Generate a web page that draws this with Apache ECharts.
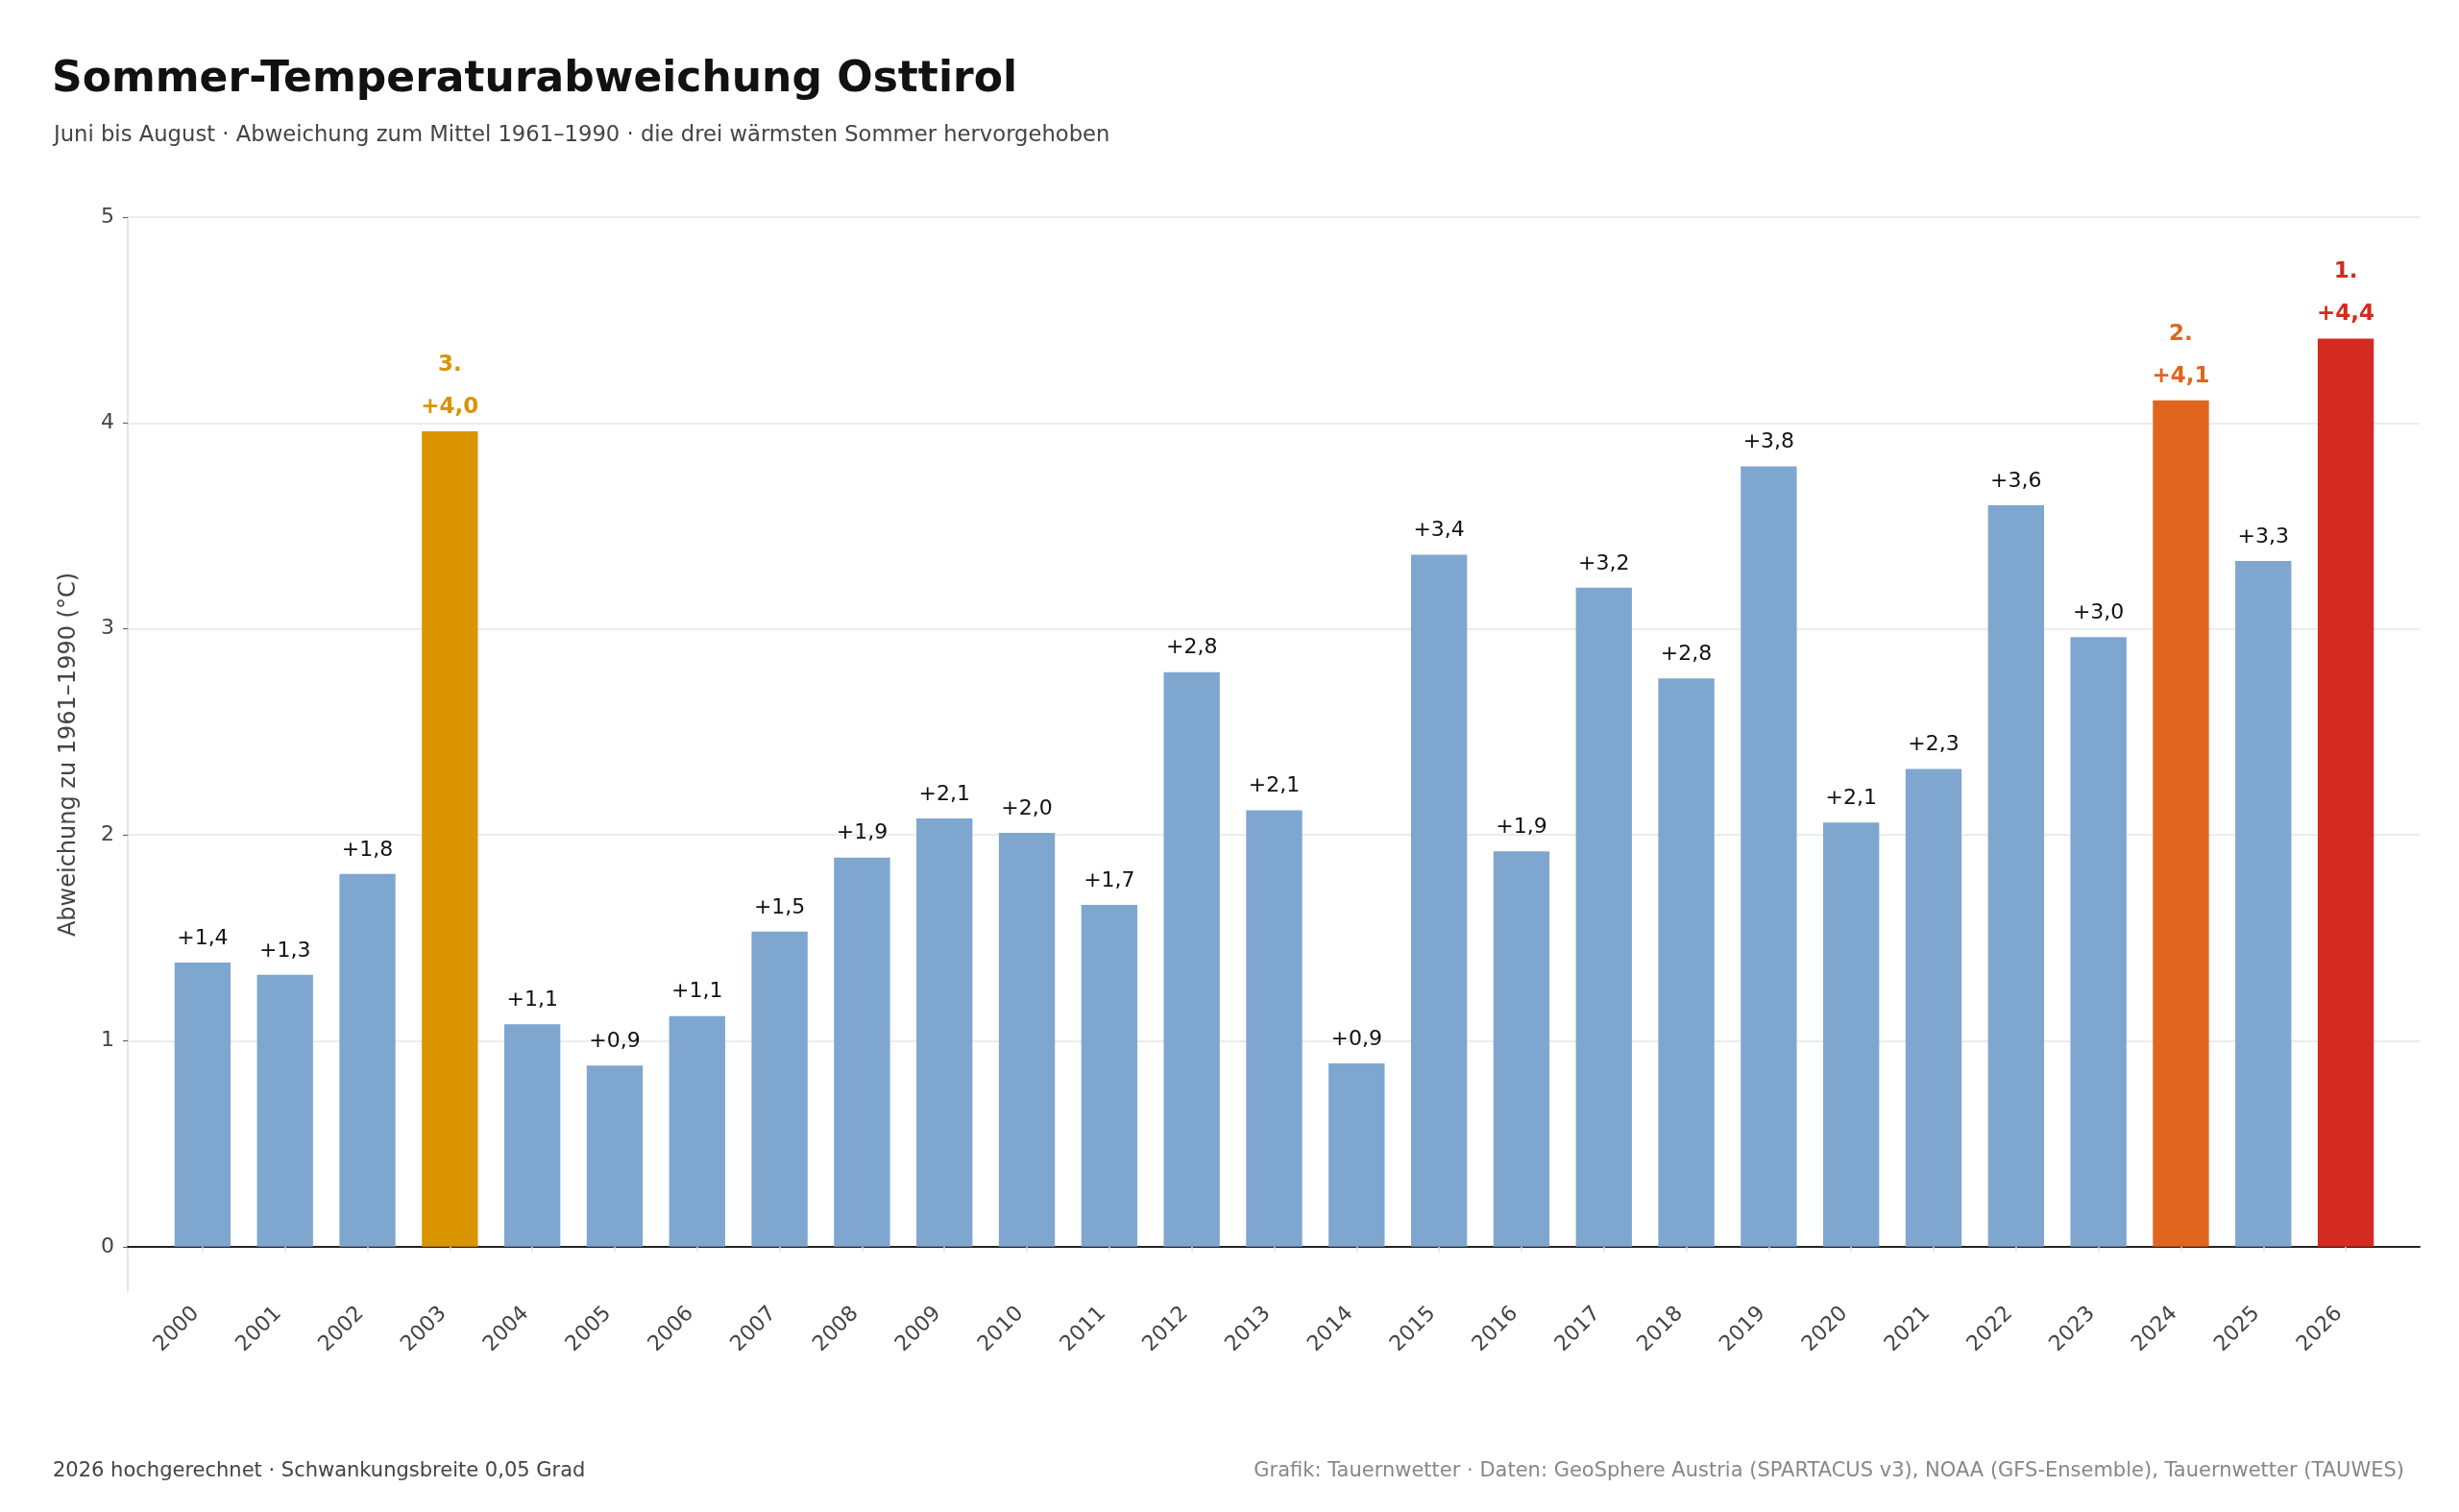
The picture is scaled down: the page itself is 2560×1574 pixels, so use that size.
<!DOCTYPE html>
<html>
<head>
    <meta charset="UTF-8">
    <title>Sommer-Temperaturabweichung Osttirol</title>
    <style>
        html, body { margin: 0; padding: 0; background: #fff; }
        #main { width: 2560px; height: 1574px; }
    </style>
</head>
<body>
<div id="main"></div>
<script src="https://cdn.jsdelivr.net/npm/echarts@6/dist/echarts.min.js"></script>
<script>
    // Jahre und Abweichungen (°C) zum Mittel 1961-1990
    var years = ['2000', '2001', '2002', '2003', '2004', '2005', '2006', '2007', '2008', '2009',
        '2010', '2011', '2012', '2013', '2014', '2015', '2016', '2017', '2018', '2019',
        '2020', '2021', '2022', '2023', '2024', '2025', '2026'];
    var values = [1.38, 1.32, 1.81, 3.96, 1.08, 0.88, 1.12, 1.53, 1.89, 2.08,
        2.01, 1.66, 2.79, 2.12, 0.89, 3.36, 1.92, 3.20, 2.76, 3.79,
        2.06, 2.32, 3.60, 2.96, 4.11, 3.33, 4.41];
    // die drei wärmsten Sommer
    var topYears = ['2026', '2024', '2003'];
    var topColors = ['#D42B20', '#E0661F', '#D99400'];
    var baseColor = '#7FA6CF';

    function fmt(v) {
        return '+' + v.toFixed(1).replace('.', ',');
    }

    var barData = values.map(function (v, i) {
        var rank = topYears.indexOf(years[i]);
        if (rank < 0) {
            return { value: v, itemStyle: { color: baseColor } };
        }
        var c = topColors[rank];
        return {
            value: v,
            itemStyle: { color: c },
            label: {
                distance: 3,
                formatter: '{r|' + (rank + 1) + '.}\n{v|' + fmt(v) + '}',
                rich: {
                    r: { color: c, fontWeight: 'bold', fontSize: 23, lineHeight: 44, fontFamily: 'DejaVu Sans' },
                    v: { color: c, fontWeight: 'bold', fontSize: 23, lineHeight: 44, fontFamily: 'DejaVu Sans' }
                }
            }
        };
    });

    var chart = echarts.init(document.getElementById('main'));
    var option = {
        animation: false,
        backgroundColor: '#fff',
        textStyle: { fontFamily: 'DejaVu Sans' },
        title: [
            {
                text: 'Sommer-Temperaturabweichung Osttirol',
                left: 49, top: 57,
                textStyle: { fontSize: 44, fontWeight: 'bold', color: '#111' }
            },
            {
                text: 'Juni bis August · Abweichung zum Mittel 1961–1990 · die drei wärmsten Sommer hervorgehoben',
                left: 51, top: 125,
                textStyle: { fontSize: 22.7, fontWeight: 'normal', color: '#444' }
            },
            {
                text: '2026 hochgerechnet · Schwankungsbreite 0,05 Grad',
                left: 50, top: 1516,
                textStyle: { fontSize: 21, fontWeight: 'normal', color: '#444' }
            },
            {
                text: 'Grafik: Tauernwetter · Daten: GeoSphere Austria (SPARTACUS v3), NOAA (GFS-Ensemble), Tauernwetter (TAUWES)',
                right: 52, top: 1516,
                textStyle: { fontSize: 21, fontWeight: 'normal', color: '#888' }
            }
        ],
        grid: [
            { left: 133, right: 41, top: 226, bottom: 229 },
            { left: 168, right: 75, top: 226, bottom: 229 }
        ],
        xAxis: [
            {
                gridIndex: 0,
                type: 'value',
                min: 0,
                max: 1,
                axisLine: { show: true, onZero: true, lineStyle: { color: '#222', width: 2 } },
                axisTick: { show: false },
                axisLabel: { show: false },
                splitLine: { show: false }
            },
            {
                gridIndex: 1,
                type: 'category',
                data: years,
                axisLine: { show: false },
                axisTick: { show: true, alignWithLabel: true, length: 5, lineStyle: { color: '#ddd', width: 1.5 } },
                axisLabel: { rotate: 45, fontSize: 22, color: '#444', margin: 12, interval: 0, padding: [0, 10, 0, 0] },
                splitLine: { show: false }
            }
        ],
        yAxis: [
            {
                gridIndex: 0,
                type: 'value',
                min: -0.22,
                max: 5,
                splitNumber: 5,
                name: 'Abweichung zu 1961–1990 (°C)',
                nameLocation: 'middle',
                nameGap: 49,
                nameTextStyle: { fontSize: 24, color: '#444' },
                axisLine: { show: true, lineStyle: { color: '#ddd', width: 1.5 } },
                axisTick: { show: true, length: 5, lineStyle: { color: '#666', width: 1.2 } },
                axisLabel: { fontSize: 22, color: '#444', margin: 14, showMinLabel: false },
                splitLine: { show: true, showMinLine: false, lineStyle: { color: '#e6e6e6', width: 1.5 } }
            },
            {
                gridIndex: 1,
                type: 'value',
                min: -0.22,
                max: 5,
                show: false,
                splitLine: { show: false }
            }
        ],
        series: [
            {
                type: 'bar',
                xAxisIndex: 1,
                yAxisIndex: 1,
                data: barData,
                barWidth: '68%',
                label: {
                    show: true,
                    position: 'top',
                    distance: 14,
                    fontSize: 22,
                    lineHeight: 22,
                    color: '#111',
                    formatter: function (p) { return fmt(p.value); }
                }
            }
        ]
    };
    chart.setOption(option);
</script>
</body>
</html>
